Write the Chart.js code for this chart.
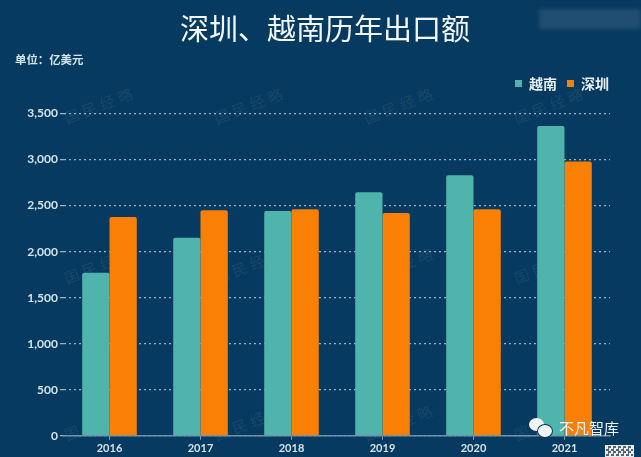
<!DOCTYPE html>
<html lang="zh">
<head>
  <meta charset="UTF-8">
  <title>深圳、越南历年出口额</title>
  <style>
    html, body { margin: 0; padding: 0; background: #063a60; }
    body { width: 641px; height: 457px; position: relative; overflow: hidden; font-family: "Noto Sans CJK SC", sans-serif; }
    canvas { position: absolute; left: 0; top: 0; }
    .title { position: absolute; left: 125px; width: 400px; top: 8px; text-align: center; font-size: 29px; line-height: 38px; color: #f2f7f9; }
    .unit { position: absolute; left: 15px; top: 51px; font-size: 11.4px; font-weight: 700; color: #d5e3ea; line-height: 16px; }
    .mark { position: absolute; font-size: 15px; letter-spacing: 4px; line-height: 20px; color: rgba(255,255,255,0.085); transform: rotate(-21deg); white-space: nowrap; }
    .blur { position: absolute; left: 539px; top: 9px; width: 102px; height: 20px; background: #2b5576; opacity: .75; filter: blur(2px); }
    .brand { position: absolute; left: 559px; top: 418px; font-size: 15px; color: #eef3f5; line-height: 20px; }
    .bubble { position: absolute; border-radius: 50%; background: #f2f5f6; }
    .qr { position: absolute; left: 605px; top: 445px; width: 29px; height: 12px; background: repeating-conic-gradient(#55646f 0 25%, #e9eef0 0 50%) 0 0 / 5px 5px; border: 1px solid #e9eef0; box-sizing: border-box; }
  </style>
</head>
<body>
  <div class="mark" style="left:62px;top:95px">国民经略</div>
  <div class="mark" style="left:212px;top:95px">国民经略</div>
  <div class="mark" style="left:362px;top:95px">国民经略</div>
  <div class="mark" style="left:512px;top:95px">国民经略</div>
  <div class="mark" style="left:62px;top:255px">国民经略</div>
  <div class="mark" style="left:212px;top:255px">国民经略</div>
  <div class="mark" style="left:362px;top:255px">国民经略</div>
  <div class="mark" style="left:512px;top:255px">国民经略</div>
  <div class="mark" style="left:62px;top:412px">国民经略</div>
  <div class="mark" style="left:212px;top:412px">国民经略</div>
  <div class="mark" style="left:362px;top:412px">国民经略</div>
  <div class="mark" style="left:512px;top:412px">国民经略</div>
  <canvas id="exportChart" width="641" height="457"></canvas>
  <div class="title">深圳、越南历年出口额</div>
  <div class="unit">单位：亿美元</div>
  <div class="blur"></div>
  <div class="bubble" style="left:529px;top:418px;width:15px;height:13px"></div>
  <div class="bubble" style="left:538px;top:425px;width:14px;height:12px;box-shadow:0 0 0 1px #063a60"></div>
  <div class="brand">不凡智库</div>
  <div class="qr"></div>

  <script src="https://cdn.jsdelivr.net/npm/chart.js"></script>
  <script>
    const years = ['2016', '2017', '2018', '2019', '2020', '2021'];
    const vietnam = [1770, 2150, 2440, 2645, 2830, 3365];
    const shenzhen = [2375, 2450, 2460, 2420, 2460, 2980];

    const fontCN = '"Noto Sans CJK SC", sans-serif';
    const tickColor = '#d5e3ea';

    // legend sits lower than the plot top and runs past the plot's right edge
    const legendGap = {
      id: 'legendGap',
      beforeInit(chart) {
        const fit = chart.legend.fit;
        chart.legend.fit = function () {
          fit.call(this);
          this.height += 13;
        };
      },
      beforeDraw(chart) {
        chart.legend.right = chart.chartArea.right + 9;
      }
    };

    new Chart(document.getElementById('exportChart'), {
      type: 'bar',
      data: {
        labels: years,
        datasets: [
          { label: '越南', data: vietnam, backgroundColor: '#4fb5ac', borderRadius: 2, borderSkipped: 'bottom' },
          { label: '深圳', data: shenzhen, backgroundColor: '#f97f05', borderRadius: 2, borderSkipped: 'bottom' }
        ]
      },
      plugins: [legendGap],
      options: {
        responsive: false,
        animation: false,
        layout: { padding: { left: 0, right: 31, top: 66.5, bottom: 0 } },
        datasets: { bar: { barPercentage: 1, categoryPercentage: 0.6 } },
        plugins: {
          legend: {
            position: 'top',
            align: 'end',
            labels: {
              color: '#e6eef2',
              font: { family: fontCN, size: 14, weight: '700' },
              usePointStyle: true,
              pointStyle: 'rect',
              boxWidth: 7,
              boxHeight: 7,
              padding: 10
            }
          },
          tooltip: { enabled: false }
        },
        scales: {
          x: {
            offset: true,
            grid: { display: true, drawOnChartArea: false, color: '#7f9db2', tickLength: 4, offset: false },
            border: { color: '#6f91a8', width: 1.5 },
            ticks: { color: tickColor, font: { family: 'Lato', size: 11, weight: '700' }, padding: 2 }
          },
          y: {
            min: 0,
            max: 3500,
            afterFit: scale => { scale.width = 64; },
            grid: { color: '#93b3c6', tickLength: 4, lineWidth: 1.3 },
            border: { display: false, dash: [2, 3] },
            ticks: {
              stepSize: 500,
              color: tickColor,
              padding: 2,
              font: { family: 'Lato', size: 12, weight: '700' },
              callback: v => v.toLocaleString('en-US')
            }
          }
        }
      }
    });
  </script>
</body>
</html>
